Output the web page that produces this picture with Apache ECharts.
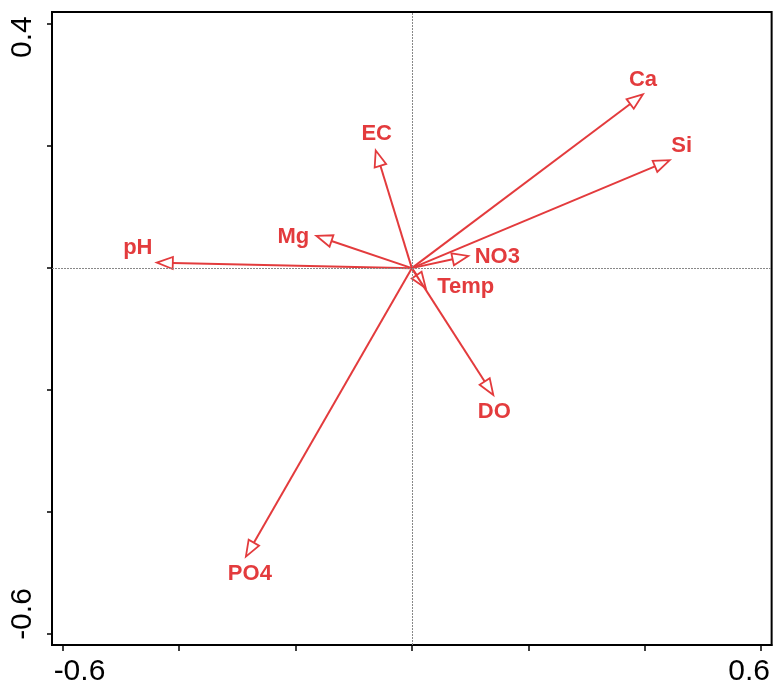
<!DOCTYPE html>
<html>
<head>
<meta charset="utf-8">
<script src="https://cdn.jsdelivr.net/npm/echarts@6/dist/echarts.min.js"></script>
<style>
html, body { margin: 0; padding: 0; background: #fff; }
#main { width: 773px; height: 693px; }
</style>
</head>
<body>
<div id="main"></div>
<script>
// environmental variables (biplot arrows)
var names = ['pH', 'Mg', 'EC', 'Ca', 'Si', 'NO3', 'Temp', 'DO', 'PO4']
var axis1 = [-0.438, -0.164, -0.062, 0.397, 0.443, 0.097, 0.024, 0.140, -0.285]
var axis2 = [0.009, 0.053, 0.193, 0.285, 0.177, 0.020, -0.033, -0.208, -0.473]

var xTicks = [-0.6, -0.4, -0.2, 0, 0.2, 0.4, 0.6]
var yTicks = [-0.6, -0.4, -0.2, 0, 0.2, 0.4]
var xLabels = [-0.6, 0.6]
var yLabels = [-0.6, 0.4]

// label offset from arrow tip, in px
var labelOffsets = [[-19, -15], [-23, 1], [1, -16], [0, -14], [12, -14], [29, 1], [40, -1], [1, 17], [4, 17]]

var red = '#e33b3d'
var myChart = echarts.init(document.getElementById('main'))

var arrows = []
for (var i = 0; i < names.length; i++) {
    arrows.push([axis1[i], axis2[i]])
}

function renderArrow(params, api) {
    var o = api.coord([0, 0])
    var t = api.coord([api.value(0), api.value(1)])
    var dx = t[0] - o[0], dy = t[1] - o[1]
    var len = Math.sqrt(dx * dx + dy * dy)
    var ux = dx / len, uy = dy / len
    var hl = 16, hw = 6
    var bx = t[0] - ux * hl, by = t[1] - uy * hl
    var off = labelOffsets[params.dataIndex]
    return {
        type: 'group',
        children: [
            { type: 'line', shape: { x1: o[0], y1: o[1], x2: bx, y2: by }, style: { stroke: red, lineWidth: 2 } },
            { type: 'polygon', shape: { points: [[t[0], t[1]], [bx - uy * hw, by + ux * hw], [bx + uy * hw, by - ux * hw]] },
              style: { fill: '#fff', stroke: red, lineWidth: 1.8 } },
            { type: 'text', x: t[0] + off[0], y: t[1] + off[1],
              style: { text: names[params.dataIndex], fill: red, font: 'bold 22px "Liberation Sans", Arial, sans-serif',
                       align: 'center', verticalAlign: 'middle' } }
        ]
    }
}

var option = {
    animation: false,
    grid: { left: 52, right: 1, top: 12, bottom: 48, show: true, borderColor: '#000', borderWidth: 2 },
    xAxis: {
        type: 'value', min: -0.618, max: 0.618,
        axisLine: { onZero: false, lineStyle: { color: '#000', width: 2 } },
        axisTick: { customValues: xTicks, length: 6, lineStyle: { color: '#000', width: 1.5 } },
        splitLine: { show: false },
        axisLabel: {
            customValues: xLabels, margin: 12, color: '#000', fontSize: 30,
            fontFamily: 'Liberation Sans',
            formatter: function (v) { return v < 0 ? '{a|' + v + '}' : '{b|' + v + '}' },
            rich: {
                a: { fontSize: 30, fontFamily: 'Liberation Sans', color: '#000', padding: [0, 0, 0, 34] },
                b: { fontSize: 30, fontFamily: 'Liberation Sans', color: '#000', padding: [0, 24, 0, 0] }
            }
        }
    },
    yAxis: {
        type: 'value', min: -0.618, max: 0.42,
        axisLine: { show: true, onZero: false, lineStyle: { color: '#000', width: 2 } },
        axisTick: { show: true, customValues: yTicks, length: 5, lineStyle: { color: '#000', width: 1.5 } },
        splitLine: { show: false },
        axisLabel: {
            customValues: yLabels, rotate: 90, margin: 14, color: '#000', fontSize: 30,
            fontFamily: 'Liberation Sans',
            formatter: function (v) { return v < 0 ? '{a|' + v + '}' : '{b|' + v + '}' },
            rich: {
                a: { fontSize: 30, fontFamily: 'Liberation Sans', color: '#000', padding: [0, 0, 0, 40] },
                b: { fontSize: 30, fontFamily: 'Liberation Sans', color: '#000', padding: [0, 26, 0, 0] }
            }
        }
    },
    series: [
        {
            type: 'scatter', data: [], silent: true, z: 1,
            markLine: {
                silent: true, symbol: 'none', label: { show: false },
                lineStyle: { color: '#888', type: [2, 1], width: 1 },
                data: [{ xAxis: 0 }, { yAxis: 0 }]
            }
        },
        {
            name: 'env', type: 'custom', z: 3,
            renderItem: renderArrow,
            data: arrows
        }
    ]
}

myChart.setOption(option)
</script>
</body>
</html>
